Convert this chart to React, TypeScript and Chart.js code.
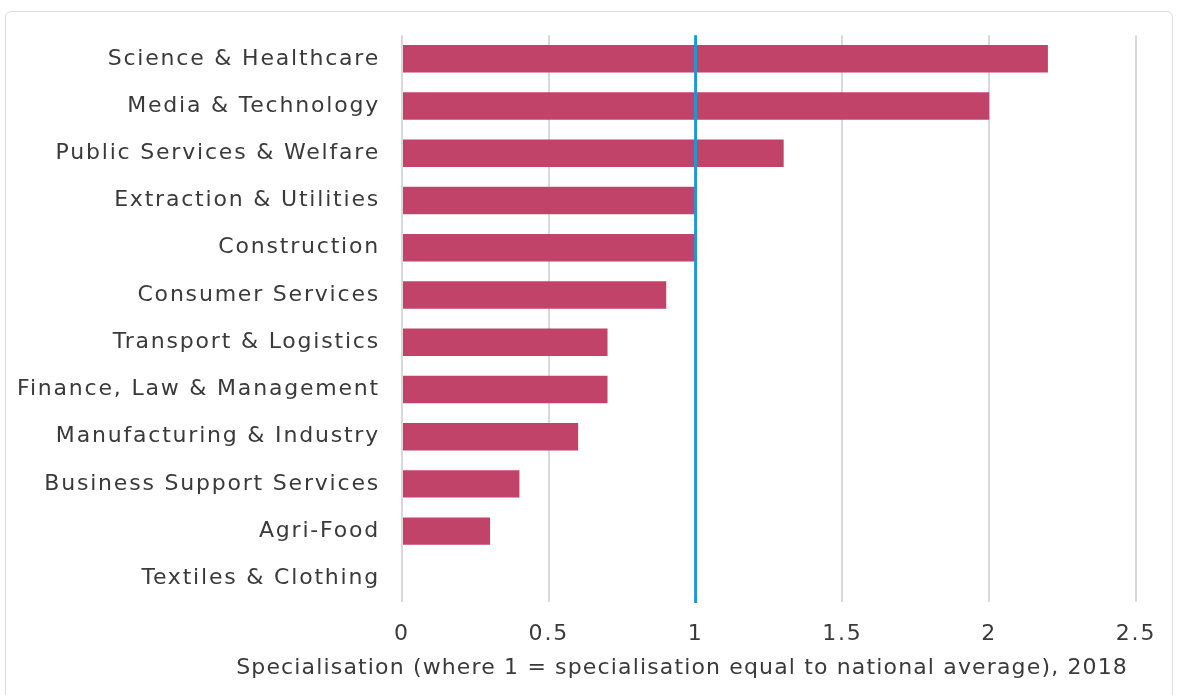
import React, { useEffect, useRef } from "react";
import { Chart, registerables } from "chart.js";

Chart.register(...registerables);

const categories = [
  "Science & Healthcare",
  "Media & Technology",
  "Public Services & Welfare",
  "Extraction & Utilities",
  "Construction",
  "Consumer Services",
  "Transport & Logistics",
  "Finance, Law & Management",
  "Manufacturing & Industry",
  "Business Support Services",
  "Agri-Food",
  "Textiles & Clothing",
];
const specialisation = [2.2, 2.0, 1.3, 1.0, 1.0, 0.9, 0.7, 0.7, 0.6, 0.4, 0.3, 0];
const nationalAverage = 1;
const xTicks = [0, 0.5, 1, 1.5, 2, 2.5];
const axisTitle = "Specialisation (where 1 = specialisation equal to national average), 2018";

const FONT = "'DejaVu Sans', sans-serif";
const TEXT = "#3a3a3a";

const spacing = {
  id: "spacing",
  beforeDraw(chart: any) {
    (chart.ctx as any).letterSpacing = "1.8px";
  },
};

const refLine = {
  id: "refLine",
  afterDatasetsDraw(chart: any) {
    const { ctx, chartArea, scales } = chart;
    const x = scales.x.getPixelForValue(nationalAverage);
    ctx.save();
    ctx.strokeStyle = "#1e98d4";
    ctx.lineWidth = 3;
    ctx.beginPath();
    ctx.moveTo(x, chartArea.top);
    ctx.lineTo(x, chartArea.bottom + 1);
    ctx.stroke();
    ctx.restore();
  },
};

const bottomTitle = {
  id: "bottomTitle",
  afterDraw(chart: any) {
    const { ctx, chartArea } = chart;
    ctx.save();
    ctx.font = `22px ${FONT}`;
    (ctx as any).letterSpacing = "1.15px";
    ctx.fillStyle = TEXT;
    ctx.textAlign = "right";
    ctx.textBaseline = "middle";
    ctx.fillText(axisTitle, chartArea.right - 8, chartArea.bottom + 66);
    ctx.restore();
  },
};

export default function App() {
  const ref = useRef<HTMLCanvasElement>(null);
  useEffect(() => {
    if (!ref.current) return;
    const chart = new Chart(ref.current, {
      type: "bar",
      data: {
        labels: categories,
        datasets: [
          {
            data: specialisation,
            backgroundColor: "#c2436a",
            barPercentage: 0.58,
            categoryPercentage: 1,
          },
        ],
      },
      options: {
        indexAxis: "y",
        animation: false,
        responsive: false,
        layout: { padding: { top: 33, right: 43, left: 0, bottom: 0 } },
        plugins: { legend: { display: false }, tooltip: { enabled: false } },
        scales: {
          x: {
            type: "linear",
            min: 0,
            max: 2.5,
            afterBuildTicks: (s: any) => {
              s.ticks = xTicks.map((v) => ({ value: v }));
            },
            afterFit: (s: any) => {
              s.height = 93;
            },
            border: { display: false },
            grid: { color: "#d9d9d9", lineWidth: 2, drawTicks: false },
            ticks: {
              padding: 19,
              color: TEXT,
              font: { family: FONT, size: 22 },
              maxRotation: 0,
              callback: (v: any) => String(v),
            },
          },
          y: {
            afterFit: (s: any) => {
              s.width = 402;
            },
            border: { display: false },
            grid: { display: false, drawTicks: false },
            ticks: {
              padding: 22,
              color: TEXT,
              font: { family: FONT, size: 22 },
              autoSkip: false,
            },
          },
        },
      },
      plugins: [spacing, refLine, bottomTitle],
    });
    return () => chart.destroy();
  }, []);
  return (
    <div style={{ position: "fixed", left: 0, top: 0, width: 1179, height: 695, background: "#fff" }}>
      <div
        style={{
          position: "absolute",
          left: 5,
          top: 11,
          width: 1166,
          height: 720,
          border: "1px solid #dcdcdc",
          borderRadius: 6,
        }}
      />
      <canvas ref={ref} width={1179} height={695} style={{ position: "absolute", left: 0, top: 0 }} />
    </div>
  );
}
